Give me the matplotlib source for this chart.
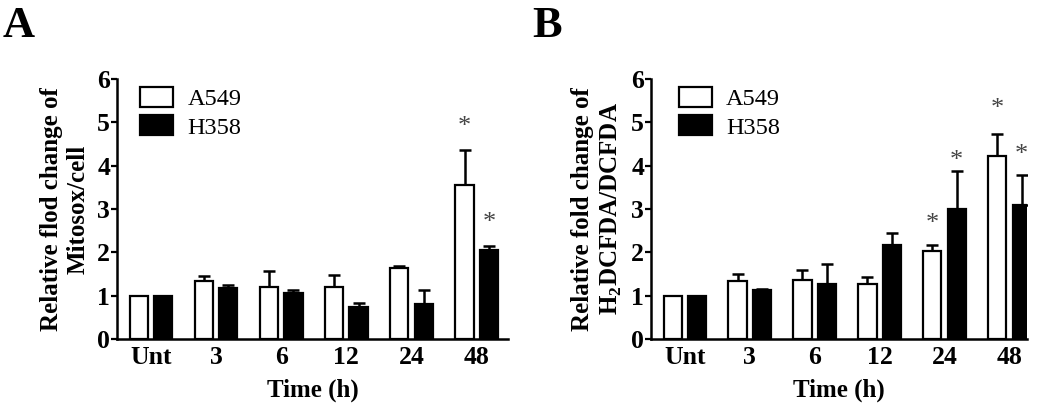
import matplotlib

matplotlib.use("Agg")

import matplotlib.pyplot as plt
import numpy as np
from matplotlib.patches import Patch
from matplotlib.transforms import offset_copy

plt.rcParams["font.family"] = ["Liberation Serif", "DejaVu Serif"]
plt.rcParams["mathtext.fontset"] = "custom"
plt.rcParams["mathtext.rm"] = "Liberation Serif:bold"
plt.rcParams["mathtext.bf"] = "Liberation Serif:bold"

time_labels = ["Unt", "3", "6", "12", "24", "48"]
series_names = ["A549", "H358"]

# panel A: Mitosox/cell
mito_a549 = [1.00, 1.35, 1.21, 1.19, 1.65, 3.56]
mito_a549_err = [0.00, 0.11, 0.37, 0.29, 0.03, 0.81]
mito_h358 = [1.00, 1.18, 1.06, 0.73, 0.81, 2.06]
mito_h358_err = [0.00, 0.07, 0.06, 0.10, 0.32, 0.09]
mito_stars = [(5, 0, 5.0), (5, 1, 2.8)]  # (group, series, y)

# panel B: H2DCFDA/DCFDA
dcf_a549 = [1.00, 1.33, 1.37, 1.28, 2.04, 4.22]
dcf_a549_err = [0.00, 0.17, 0.22, 0.14, 0.13, 0.50]
dcf_h358 = [1.00, 1.13, 1.27, 2.18, 3.00, 3.10]
dcf_h358_err = [0.00, 0.02, 0.46, 0.27, 0.87, 0.68]
dcf_stars = [(4, 0, 2.77), (4, 1, 4.23), (5, 0, 5.42), (5, 1, 4.36)]

W, H = 1050, 411
fig = plt.figure(figsize=(W / 100, H / 100), dpi=100)

OFFSET = 0.375
BAR_W = 0.28


def draw_panel(ax, a549, a549_err, h358, h358_err, stars, ylabel, xlim, leg_x):
    x = np.arange(len(time_labels))
    for vals, errs, off, color in [(a549, a549_err, -OFFSET / 2, "white"),
                                   (h358, h358_err, OFFSET / 2, "black")]:
        ax.bar(x + off, vals, width=BAR_W, color=color, edgecolor="black",
               linewidth=1.6, zorder=2)
        ax.errorbar(x + off, vals, yerr=[np.zeros(len(errs)), errs], fmt="none",
                    ecolor="black", elinewidth=1.8, capsize=4.5, capthick=1.8,
                    zorder=1)
    # asterisk glyph sits high in its box, nudge it down
    star_tr = offset_copy(ax.transData, fig=fig, x=0, y=-5, units="dots")
    for g, s, y in stars:
        ax.text(g + (-OFFSET / 2 if s == 0 else OFFSET / 2), y, "*",
                ha="center", va="center", fontsize=19, color="#444444",
                transform=star_tr)
    ax.set_xlim(*xlim)
    ax.set_ylim(0, 6)
    ax.set_yticks(range(7))
    ax.set_xticks(x)
    ax.set_xticklabels(time_labels)
    ax.tick_params(axis="x", length=0, pad=5, labelsize=18.5)
    ax.tick_params(axis="y", length=4, width=1.6, pad=1, labelsize=18.5)
    for lab in ax.get_xticklabels() + ax.get_yticklabels():
        lab.set_fontweight("bold")
    for side in ["top", "right"]:
        ax.spines[side].set_visible(False)
    for side in ["left", "bottom"]:
        ax.spines[side].set_linewidth(1.8)
    ax.set_xlabel("Time (h)", fontsize=18, fontweight="bold", labelpad=7)
    ax.set_ylabel(ylabel, fontsize=18, fontweight="bold", labelpad=5,
                  linespacing=1.25)
    handles = [Patch(facecolor="white", edgecolor="black", linewidth=1.6),
               Patch(facecolor="black", edgecolor="black", linewidth=1.6)]
    ax.legend(handles, series_names, loc="upper left",
              bbox_to_anchor=(leg_x, 0.97), frameon=False, fontsize=17.5,
              handlelength=1.33, handleheight=0.9, handletextpad=0.6,
              labelspacing=0.2, borderpad=0, borderaxespad=0)


bottom = (H - 339) / H
height = 260 / H
ax_a = fig.add_axes([117 / W, bottom, 391 / W, height])
ax_b = fig.add_axes([651 / W, bottom, 376 / W, height])

draw_panel(ax_a, mito_a549, mito_a549_err, mito_h358, mito_h358_err, mito_stars,
           "Relative flod change of\nMitosox/cell", (-0.52, 5.48), 0.06)
draw_panel(ax_b, dcf_a549, dcf_a549_err, dcf_h358, dcf_h358_err, dcf_stars,
           "Relative fold change of\nH$_{2}$DCFDA/DCFDA", (-0.52, 5.27), 0.075)

fig.text(3 / W, 1 - 37 / H, "A", fontsize=32, fontweight="bold", va="baseline")
fig.text(532 / W, 1 - 37 / H, "B", fontsize=32, fontweight="bold", va="baseline")

fig.savefig("out.png", dpi=100)
